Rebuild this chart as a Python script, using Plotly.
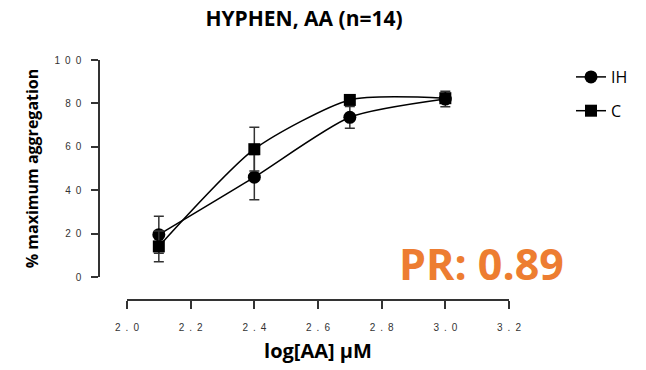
import plotly.graph_objects as go

x_vals = [2.1, 2.4, 2.7, 3.0]
ih_vals = [19.5, 46.0, 73.6, 82.0]
ih_err = [8.5, 10.4, 5.0, 3.6]
c_vals = [14.1, 58.9, 81.6, 82.4]
c_err = [7.1, 10.1, 2.0, 2.0]

SP = "\u2002"
x_ticks = [2.0, 2.2, 2.4, 2.6, 2.8, 3.0, 3.2]
x_ticktext = [SP.join(f"{v:.1f}") for v in x_ticks]
y_ticks = [0, 20, 40, 60, 80, 100]
y_ticktext = [SP.join(str(v)) for v in y_ticks]

W, H = 646, 370
fig = go.Figure()
fig.add_trace(go.Scatter(
    x=x_vals, y=ih_vals, name="IH", mode="lines+markers",
    line=dict(color="black", width=1.5, shape="spline", smoothing=0.65),
    marker=dict(symbol="circle", size=13, color="black"),
    error_y=dict(type="data", array=ih_err, color="#333333", thickness=1.5, width=5),
    legendgroup="a",
))
fig.add_trace(go.Scatter(
    x=x_vals, y=c_vals, name="C", mode="lines+markers",
    line=dict(color="black", width=1.5, shape="spline", smoothing=0.65),
    marker=dict(symbol="square", size=12, color="black"),
    error_y=dict(type="data", array=c_err, color="#333333", thickness=1.5, width=5),
    legendgroup="b",
))

tickfont = dict(family="Liberation Sans, Arial", size=10, color="#333333")
titlefont = "Open Sans"
fig.update_layout(
    width=W, height=H,
    margin=dict(l=0, r=0, t=0, b=0, autoexpand=False),
    paper_bgcolor="white", plot_bgcolor="white",
    font=dict(family="Open Sans, sans-serif", color="black"),
    title=dict(text="<b>HYPHEN, AA (n=14)</b>", x=304 / W, xanchor="center",
               y=1 - 19 / H, yanchor="middle", font=dict(size=21, family=titlefont)),
    xaxis=dict(
        domain=[127 / W, 509 / W], range=[2.0, 3.2], anchor="free",
        position=70 / H, showline=True, linecolor="#333333", linewidth=1.5,
        ticks="outside", ticklen=8, tickwidth=1.5, tickcolor="#333333",
        tickvals=x_ticks, ticktext=x_ticktext, tickfont=tickfont,
        ticklabelstandoff=10, showgrid=False, zeroline=False, automargin=False,
        title=dict(text="<b>log[AA] μM</b>", font=dict(size=20, family=titlefont), standoff=11),
    ),
    yaxis=dict(
        domain=[93 / H, 310 / H], range=[0, 100], anchor="free",
        position=99 / W, showline=True, linecolor="#333333", linewidth=1.5,
        ticks="outside", ticklen=7, tickwidth=1.5, tickcolor="#333333",
        tickvals=y_ticks, ticktext=y_ticktext, tickfont=tickfont,
        ticklabelstandoff=8, showgrid=False, zeroline=False, automargin=False,
        title=dict(text="<b>% maximum aggregation</b>", font=dict(size=16, family=titlefont), standoff=11),
    ),
    legend=dict(x=571 / W, y=1 - 60 / H, xanchor="left", yanchor="top",
                font=dict(size=16, family="Open Sans"), tracegroupgap=10,
                traceorder="grouped", bgcolor="rgba(0,0,0,0)"),
    annotations=[dict(text="<b>PR: 0.89</b>", x=482 / W, y=1 - 263 / H,
                      xref="paper", yref="paper", xanchor="center", yanchor="middle",
                      showarrow=False, font=dict(size=43, family="Open Sans", color="#ED7D31"))],
)
fig.write_html("out.html")
